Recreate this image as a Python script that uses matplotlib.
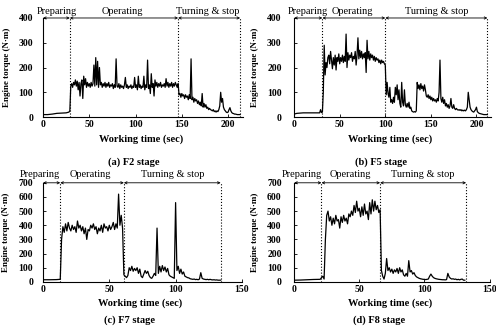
import matplotlib
matplotlib.use("Agg")
import matplotlib.pyplot as plt

# F2 stage
f2_prep_time = [0, 5, 10, 15, 20, 25, 28, 29]
f2_prep_torque = [10, 10, 12, 15, 16, 17, 20, 25]
f2_run_start = 30
f2_run_torque = [
    125, 135, 120, 140, 130, 150, 125, 145, 110, 140, 85, 135, 150, 75, 165, 130,
    155, 120, 140, 125, 135, 120, 140, 125, 135, 210, 125, 240, 130, 225, 120, 200,
    130, 140, 120, 135, 125, 140, 120, 135, 125, 140, 120, 130, 125, 135, 115, 130,
    120, 235, 125, 120, 135, 115, 130, 120, 125, 115, 130, 160, 120, 130, 115, 125,
    120, 130, 115, 125, 120, 160, 120, 130, 110, 165, 120, 130, 115, 125, 120, 165,
    110, 130, 120, 230, 115, 130, 95, 175, 120, 135, 85, 150, 125, 140, 120, 135,
    125, 140, 120, 130, 125, 135, 120, 155, 125, 140, 120, 135, 125, 140, 120, 135,
    125, 140, 130, 120, 135,
    90, 95, 80, 95, 85, 90, 75, 90, 80, 85, 70, 90, 75, 235, 70, 80, 60, 75, 65, 70,
    55, 65, 50, 60, 45, 95, 40, 55, 40, 50, 35, 40, 30, 35, 30, 28, 25, 30, 22, 25,
    20, 25, 22, 30, 45, 100, 60, 75, 40, 30, 25, 20, 18, 20, 30, 38, 25, 18, 15, 14,
    12, 12, 11, 10, 10, 10, 10,
]
f2_phases = [0, 29, 146, 213]

# F5 stage
f5_prep_time = [0, 3, 10, 20, 28, 29, 30, 31]
f5_prep_torque = [12, 15, 17, 17, 17, 30, 18, 20]
f5_run_start = 32
f5_run_torque = [
    100, 290, 170, 220, 200, 240, 250, 215, 265, 230, 195, 240, 210, 250, 190, 240,
    225, 255, 215, 240, 225, 250, 220, 245, 225, 335, 200, 260, 230, 250, 240, 260,
    225, 245, 235, 265, 210, 250, 320, 235, 270, 240, 265, 235, 255, 240, 260, 180,
    310, 235, 265, 230, 255, 240, 250, 230, 245, 225, 240, 230, 235, 220, 230, 215,
    230, 220, 225, 215, 210,
    90, 140, 95, 80, 120, 60, 70, 55, 80, 60, 120, 90, 130, 70, 110, 55, 40, 140, 60,
    45, 110, 50, 40, 55, 40, 60, 35, 40, 25, 22, 20, 22, 20, 25, 140, 115, 130, 110,
    135, 115, 125, 105, 130, 110, 85, 80, 90, 75, 85, 70, 80, 65, 75, 65, 70, 60, 75,
    65, 100, 230, 75, 60, 80, 55, 70, 45, 55, 40, 50, 35, 45, 75, 40, 35, 50, 35, 30,
    35, 30, 28, 30, 27, 30, 25, 28, 25, 28, 25, 30, 40, 100, 70, 40, 30, 25, 22, 20,
    25, 30, 40, 22, 18, 15, 14, 13, 12, 11, 10, 10, 10, 10, 10,
]
f5_phases = [0, 31, 100, 212]

# F7 stage
f7_prep_time = [0, 5, 10, 13]
f7_prep_torque = [15, 15, 16, 18]
f7_run_start = 14
f7_run_torque = [
    300, 390, 350, 410, 360, 420, 380, 360, 400, 370, 390, 350, 430, 380, 400, 360,
    390, 340, 380, 300, 370, 360, 400, 380, 410, 370, 390, 340, 380, 360, 400, 350,
    410, 380, 390, 360, 400, 370, 390, 420, 370, 410, 380, 620, 400, 470, 380, 50,
    40, 30, 45, 100, 80, 110, 75, 95, 80, 100, 60, 90, 40, 30, 55, 80, 60, 75, 45, 30,
    25, 40, 60, 45, 380, 60, 110, 70, 115, 80, 105, 70, 95, 50, 40, 35, 30, 25, 560,
    80, 110, 60, 90, 55, 70, 40, 35, 30, 28, 22, 20, 18, 20, 16, 18, 15, 20, 65, 25,
    20, 18, 16, 18, 15, 18, 15, 14, 15, 13, 14, 12, 12, 12,
]
f7_phases = [0, 13, 61, 134]

# F8 stage
f8_prep_time = [0, 5, 10, 15, 20, 21, 22, 23]
f8_prep_torque = [12, 13, 15, 17, 18, 30, 40, 20]
f8_run_start = 24
f8_run_torque = [
    300, 470, 500, 430, 460, 400, 450, 410, 470, 430, 440, 380, 460, 420, 470, 430,
    450, 410, 480, 460, 500, 470, 540, 490, 570, 500, 520, 460, 530, 470, 550, 480,
    500, 440, 560, 480, 580, 500, 570, 510, 540, 490, 510, 80,
    40, 20, 60, 165, 80, 100, 70, 90, 60, 85, 70, 95, 60, 100, 70, 85, 50, 40, 60, 40,
    150, 70, 80, 55, 65, 45, 35, 30, 25, 22, 20, 18, 18, 16, 18, 20, 40, 55, 40, 30,
    25, 22, 20, 18, 17, 16, 15, 15, 14, 16, 60, 35, 25, 20, 22, 18, 20, 15, 18, 14,
    18, 20, 12, 12,
]
f8_phases = [0, 21, 66, 132]

phase_names = ["Preparing", "Operating", "Turning & stop"]
captions = ["(a) F2 stage", "(b) F5 stage", "(c) F7 stage", "(d) F8 stage"]

plt.rcParams["font.family"] = "Liberation Serif"


def series(prep_time, prep_torque, start, run):
    t = list(prep_time) + list(range(start, start + len(run)))
    return t, list(prep_torque) + list(run)


def draw_panel(ax, t, y, phases, xlim, ylim, xticks, yticks, ypad, label_x,
               name_x, name_y):
    ax.plot(t, y, color="black", lw=0.9)
    ax.set_xlim(*xlim)
    ax.set_ylim(*ylim)
    ax.set_xticks(xticks)
    ax.set_yticks(yticks)
    for s in ["top", "right"]:
        ax.spines[s].set_visible(False)
    for s in ["left", "bottom"]:
        ax.spines[s].set_linewidth(0.8)
    ax.tick_params(axis="both", direction="in", length=2, width=0.6,
                   labelsize=7)
    ax.tick_params(axis="y", pad=ypad)
    ax.tick_params(axis="x", pad=2)
    for lbl in ax.get_xticklabels() + ax.get_yticklabels():
        lbl.set_fontweight("bold")

    for x in phases[1:]:
        ax.plot([x, x], [0, ylim[1]], color="black", lw=0.8, ls=":",
                clip_on=False)
    for i in range(3):
        ax.annotate("", xy=(phases[i + 1], 1.0), xytext=(phases[i], 1.0),
                    xycoords=("data", "axes fraction"),
                    arrowprops=dict(arrowstyle="<->", lw=0.6, shrinkA=0,
                                    shrinkB=0, mutation_scale=4))
        ax.text(name_x[i], name_y, phase_names[i],
                transform=ax.get_xaxis_transform(),
                ha="center", va="bottom", fontsize=7.5)

    ax.set_xlabel("Working time (sec)", fontsize=7.5, fontweight="bold")
    ax.xaxis.set_label_coords(0.49, -0.17)
    ax.set_ylabel("Engine torque (N·m)", fontsize=6.5, fontweight="bold")
    ax.yaxis.set_label_coords(label_x, 0.5)


def main():
    fig = plt.figure(figsize=(4.96, 3.27), dpi=100)
    ax_a = fig.add_axes([0.0867, 0.642, 0.403, 0.303])
    ax_b = fig.add_axes([0.593, 0.642, 0.397, 0.303])
    ax_c = fig.add_axes([0.0867, 0.138, 0.401, 0.303])
    ax_d = fig.add_axes([0.593, 0.138, 0.394, 0.303])

    t, y = series(f2_prep_time, f2_prep_torque, f2_run_start, f2_run_torque)
    draw_panel(ax_a, t, y, f2_phases, (0, 216), (0, 400), [0, 50, 100, 150, 200],
               [0, 100, 200, 300, 400], 7, -0.16, [15, 86, 178], 1.015)

    t, y = series(f5_prep_time, f5_prep_torque, f5_run_start, f5_run_torque)
    draw_panel(ax_b, t, y, f5_phases, (0, 216), (0, 400), [0, 50, 100, 150, 200],
               [0, 100, 200, 300, 400], 9, -0.18, [15, 64, 156], 1.015)

    t, y = series(f7_prep_time, f7_prep_torque, f7_run_start, f7_run_torque)
    draw_panel(ax_c, t, y, f7_phases, (0, 150), (0, 700), [0, 50, 100, 150],
               range(0, 701, 100), 7, -0.165, [-2, 36, 98], 1.04)

    t, y = series(f8_prep_time, f8_prep_torque, f8_run_start, f8_run_torque)
    draw_panel(ax_d, t, y, f8_phases, (0, 150), (0, 700), [0, 50, 100, 150],
               range(0, 701, 100), 9, -0.18, [6, 43, 99], 1.04)

    cap_pos = [(134, 162), (381, 162), (130, 320), (379, 320)]
    for (px, py), cap in zip(cap_pos, captions):
        fig.text(px / 496, 1 - py / 327, cap, ha="center", va="center",
                 fontsize=7.5, fontweight="bold")

    fig.savefig("out.png", dpi=100)


if __name__ == "__main__":
    main()
